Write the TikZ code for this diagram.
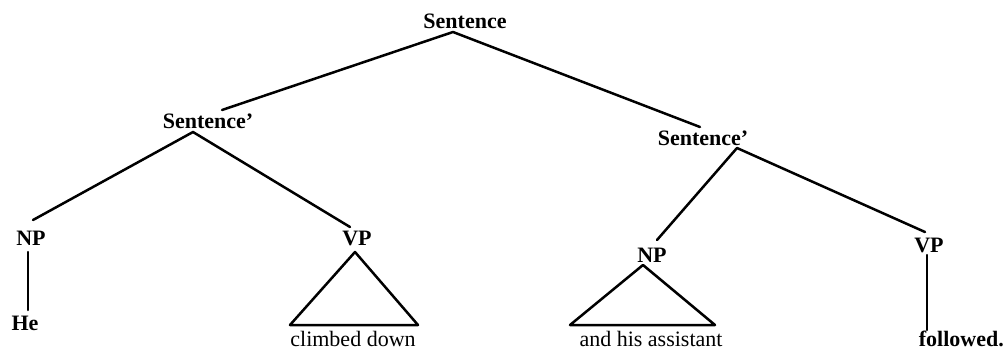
\documentclass[tikz,border=0pt]{standalone}
\usepackage{fontspec}
\setmainfont{Liberation Serif}
\begin{document}
\begin{tikzpicture}[x=1pt,y=-1pt,
  lbl/.style={inner sep=0pt,anchor=base,font=\fontsize{22}{26}\selectfont\bfseries},
  word/.style={inner sep=0pt,anchor=base,font=\fontsize{22}{26}\selectfont},
  edge/.style={line width=2.5pt,line cap=round,line join=round}]
\useasboundingbox (0,0) rectangle (1005,351);
% labels
\node[lbl] (S) at (465,28) {Sentence};
\node[lbl] (S1) at (208,128) {Sentence'};
\node[lbl] (S2) at (703,145) {Sentence'};
\node[lbl] (NP1) at (31,245) {NP};
\node[lbl] (VP1) at (357,245) {VP};
\node[lbl] (NP2) at (652,262) {NP};
\node[lbl] (VP2) at (929,252) {VP};
\node[lbl] (He) at (25,330) {He};
\node[word] (cd) at (353,346) {climbed down};
\node[word] (has) at (651,346) {and his assistant};
\node[lbl,anchor=base east] (fol) at (1004,346) {followed.};
% attachment points
\coordinate (Sa) at (453,32);
\coordinate (S1t) at (222,110);
\coordinate (S1a) at (193,132);
\coordinate (S2t) at (700,127);
\coordinate (S2a) at (737,148);
\coordinate (NP1t) at (33,220);
\coordinate (NP1b) at (28,252);
\coordinate (Het) at (28,310);
\coordinate (VP1t) at (350,227);
\coordinate (VP1a) at (355,252);
\coordinate (VP1l) at (290,325);
\coordinate (VP1r) at (418,325);
\coordinate (NP2t) at (657,240);
\coordinate (NP2a) at (643,265);
\coordinate (NP2l) at (570,325);
\coordinate (NP2r) at (715,325);
\coordinate (VP2t) at (925,232);
\coordinate (VP2b) at (927,255);
\coordinate (folt) at (927,330);
% connectors
\draw[edge] (S1t) -- (Sa) -- (S2t);
\draw[edge] (NP1t) -- (S1a) -- (VP1t);
\draw[edge] (NP2t) -- (S2a) -- (VP2t);
\draw[edge] (NP1b) -- (Het);
\draw[edge] (VP2b) -- (folt);
\draw[edge] (VP1a) -- (VP1l) -- (VP1r) -- cycle;
\draw[edge] (NP2a) -- (NP2l) -- (NP2r) -- cycle;
\end{tikzpicture}
\end{document}
